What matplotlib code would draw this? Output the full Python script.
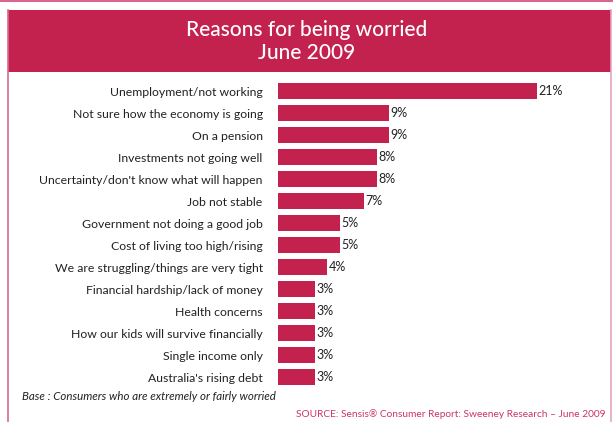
import matplotlib.pyplot as plt
from matplotlib.patches import Rectangle
from matplotlib.lines import Line2D

reasons = ['Unemployment/not working', 'Not sure how the economy is going',
           'On a pension', 'Investments not going well',
           "Uncertainty/don't know what will happen", 'Job not stable',
           'Government not doing a good job', 'Cost of living too high/rising',
           'We are struggling/things are very tight',
           'Financial hardship/lack of money', 'Health concerns',
           'How our kids will survive financially', 'Single income only',
           "Australia's rising debt"]
pct = [21, 9, 9, 8, 8, 7, 5, 5, 4, 3, 3, 3, 3, 3]

red = '#c3214e'
W, H = 613, 422
plt.rcParams['font.family'] = ['Lato', 'DejaVu Sans']

fig = plt.figure(figsize=(W / 100, H / 100), dpi=100)

# рамка и заголовочная плашка
fig.add_artist(Line2D([0, 1], [1 - 1 / H, 1 - 1 / H], color='#d9668f', lw=1.5))
fig.add_artist(Line2D([8 / W, 8 / W], [0, 1 - 10 / H], color='#d9668f', lw=1.2))
fig.add_artist(Line2D([611 / W, 611 / W], [0, 1 - 10 / H], color='#e8a4c0', lw=1.2))
fig.add_artist(Rectangle((8 / W, 1 - 72 / H), 603 / W, 62 / H,
                         transform=fig.transFigure, color=red, lw=0))
fig.text(0.5, 1 - 30 / H, 'Reasons for being worried', color='white',
         fontsize=15, ha='center', va='center', weight='medium')
fig.text(0.5, 1 - 53 / H, 'June 2009', color='white',
         fontsize=15, ha='center', va='center', weight='medium')

ax = fig.add_axes([278 / W, 1 - 388 / H, 322 / W, 308 / H])
y = range(len(reasons))
ax.barh(y, pct, height=0.77, color=red)
ax.set_xlim(0, 322 / 12.33)
ax.set_ylim(len(reasons) - 0.5, -0.5)
ax.set_yticks(list(y))
ax.set_yticklabels(reasons, fontsize=8.8, color='#222222')
ax.tick_params(axis='y', length=0, pad=11)
ax.set_xticks([])
for s in ax.spines.values():
    s.set_visible(False)
for i, v in enumerate(pct):
    ax.text(v + 0.12, i, f'{v}%', va='center', ha='left', fontsize=9,
            color='#222222')

fig.text(22 / W, 1 - 396 / H, 'Base : Consumers who are extremely or fairly worried',
         fontsize=8.3, style='italic', va='center', color='#222222')
fig.text(606 / W, 1 - 414 / H,
         'SOURCE: Sensis® Consumer Report: Sweeney Research – June 2009',
         fontsize=7.3, ha='right', va='center', color='#cc3366')

fig.savefig('out.png', dpi=100)
